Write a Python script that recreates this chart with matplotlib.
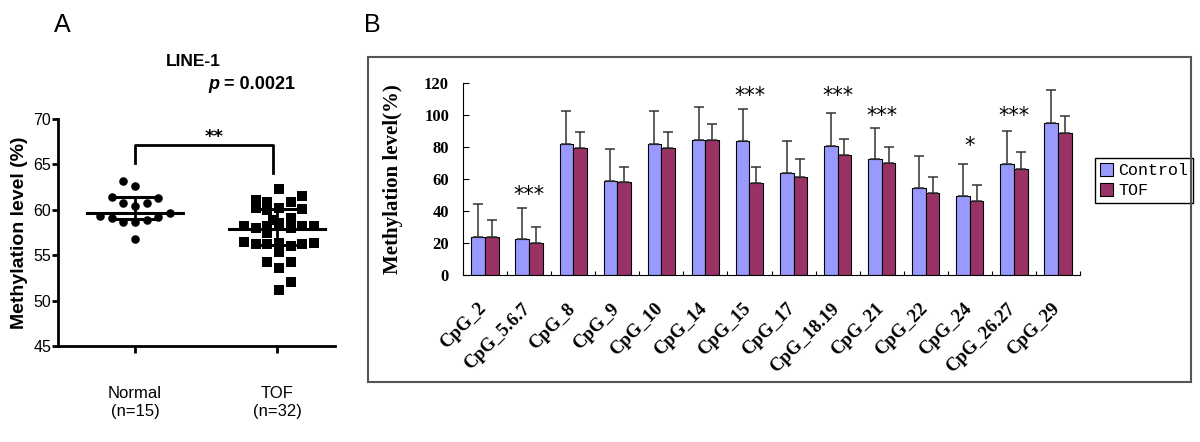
import numpy as np
import matplotlib.pyplot as plt
from matplotlib.patches import Rectangle

# ---- panel A data (LINE-1 methylation, %) ----
normal_vals = [63.2, 62.6, 61.4, 61.3, 60.7, 60.7, 60.4, 59.3, 59.6, 59.1,
               58.7, 58.7, 58.9, 59.2, 56.8]
normal_cols = [-1, 0, -2, 2, -1, 1, 0, -3, 3, -2, -1, 0, 1, 2, 0]
tof_vals = [62.3, 61.5, 61.1, 60.9, 60.9, 60.2, 60.2, 60.0, 60.1, 59.1,
            58.9, 58.5, 58.2, 58.0, 58.2, 58.0, 58.2, 58.2, 56.5, 56.2,
            56.2, 56.3, 56.0, 56.2, 56.3, 57.4, 55.4, 54.2, 54.3, 53.6,
            52.0, 51.2]
tof_cols = [0, 2, -2, -1, 1, -2, 0, -1, 2, 1, -0.5, 0, -3, -2, -1, 1, 2, 3,
            -3, -2, -1, 0, 1, 2, 3, -1, 0, -1, 1, 0, 1, 0]
group_means = [59.7, 57.9]
group_sd_hi = [61.45, 60.1]
group_sd_lo = [59.0, 56.15]
group_labels = ['Normal\n(n=15)', 'TOF\n(n=32)']

# ---- panel B data (CpG units, %) ----
cpg_labels = ['CpG_2', 'CpG_5.6.7', 'CpG_8', 'CpG_9', 'CpG_10', 'CpG_14',
              'CpG_15', 'CpG_17', 'CpG_18.19', 'CpG_21', 'CpG_22', 'CpG_24',
              'CpG_26.27', 'CpG_29']
control = [23.9, 22.3, 81.7, 58.4, 81.7, 84.2, 83.6, 63.4, 80.7, 72.2, 54.5,
           49.3, 69.1, 94.8]
control_err = [20.4, 19.7, 20.6, 20.0, 20.6, 20.4, 19.8, 20.2, 20.2, 19.7,
               19.8, 19.8, 20.5, 20.4]
tof = [23.9, 19.8, 79.0, 57.8, 79.0, 84.2, 57.2, 61.4, 74.9, 70.1, 51.0,
       46.2, 66.1, 88.4]
tof_err = [10.4, 9.9, 10.4, 9.8, 10.4, 10.0, 10.0, 10.8, 9.8, 10.0, 9.9,
           10.0, 10.4, 11.0]
sig_marks = {1: ('***', 50.0), 6: ('***', 111.8), 8: ('***', 111.4),
             9: ('***', 99.3), 11: ('*', 80.6), 12: ('***', 99.3)}

fig = plt.figure(figsize=(12, 4.42), dpi=100)

# ================= panel A =================
sans = ['Liberation Sans Narrow', 'Liberation Sans', 'DejaVu Sans']
axA = fig.add_axes([58/1200, 1-346/442, 277/1200, 227/442])
step = 0.082
axA.scatter(np.array(normal_cols) * step, normal_vals, marker='o', s=38,
            color='black', zorder=3, linewidths=0)
axA.scatter(1.014 + np.array(tof_cols) * step, tof_vals, marker='s', s=42,
            color='black', zorder=3, linewidths=0)
for i in range(2):
    axA.plot([i - 0.34, i + 0.34], [group_means[i]] * 2, color='black', lw=2.2, zorder=4)
    axA.plot([i - 0.17, i + 0.17], [group_sd_hi[i]] * 2, color='black', lw=2.2, zorder=4)
    axA.plot([i - 0.17, i + 0.17], [group_sd_lo[i]] * 2, color='black', lw=2.2, zorder=4)
    axA.plot([i, i], [group_sd_lo[i], group_sd_hi[i]], color='black', lw=2, zorder=4)

axA.plot([0, 0, 0.97, 0.97], [65.1, 67.1, 67.1, 64.1], color='black', lw=2, clip_on=False)
axA.text(0.56, 68.0, '**', ha='center', va='center', fontsize=13, fontweight='bold')

axA.set_xlim(-0.542, 1.408)
axA.set_ylim(45, 70)
axA.set_yticks([45, 50, 55, 60, 65, 70])
axA.set_xticks([0, 1], group_labels)
for s in ['top', 'right']:
    axA.spines[s].set_visible(False)
for s in ['left', 'bottom']:
    axA.spines[s].set_linewidth(2)
axA.tick_params(axis='y', direction='out', length=4, width=2, pad=1, labelsize=11.5)
axA.tick_params(axis='x', direction='out', length=5, width=2, pad=24, labelsize=12)
for lab in axA.get_xticklabels() + axA.get_yticklabels():
    lab.set_family(sans)
axA.set_ylabel('Methylation level (%)', fontsize=14, fontweight='bold', family=sans)
axA.yaxis.set_label_coords(-0.108, 0.5)
axA.text(0.487, 1.255, 'LINE-1', transform=axA.transAxes, ha='center', va='center',
         fontsize=12.5, fontweight='bold', family=sans)
axA.text(0.583, 1.15, 'p', transform=axA.transAxes, ha='right', va='center',
         fontsize=13, fontweight='bold', style='italic', family=sans)
axA.text(0.60, 1.15, '= 0.0021', transform=axA.transAxes, ha='left', va='center',
         fontsize=13, fontweight='bold', family=sans)
fig.text(62/1200, 1-25/442, 'A', ha='center', va='center', fontsize=18, family='Liberation Sans')

# ================= panel B =================
serif = ['Liberation Serif', 'DejaVu Serif']
fig.patches.append(Rectangle((368/1200, 1-382/442), 823/1200, 325/442,
                             transform=fig.transFigure, fill=False,
                             edgecolor='#555555', lw=1.5))
fig.text(372/1200, 1-25/442, 'B', ha='center', va='center', fontsize=18, family='Liberation Sans')

axB = fig.add_axes([463/1200, 1-275/442, 617/1200, 192.3/442])
x = np.arange(len(cpg_labels))
w = 0.31
axB.bar(x - w/2, control, w, color='#9999FF', edgecolor='black', lw=0.8, label='Control')
axB.bar(x + w/2, tof, w, color='#993366', edgecolor='black', lw=0.8, label='TOF')
err_kw = dict(fmt='none', ecolor='#333333', elinewidth=1.1, capsize=3.5, capthick=1.1)
axB.errorbar(x - w/2, control, yerr=[np.zeros(len(x)), control_err], **err_kw)
axB.errorbar(x + w/2, tof, yerr=[np.zeros(len(x)), tof_err], **err_kw)
for i, (txt, yv) in sig_marks.items():
    axB.text(x[i], yv, txt, ha='center', va='center', fontsize=15, family='DejaVu Sans')

axB.set_xlim(-0.5, len(x) - 0.5)
axB.set_ylim(0, 120)
axB.set_yticks(np.arange(0, 121, 20))
axB.set_xticks(x - 0.16, cpg_labels, rotation=45, ha='right', va='top',
               rotation_mode='anchor')
axB.set_xticks(np.arange(-0.5, len(x)), minor=True)
axB.tick_params(axis='x', which='major', length=0, pad=18, labelsize=13.5)
axB.tick_params(axis='x', which='minor', direction='in', length=3, width=0.8)
axB.tick_params(axis='y', direction='in', length=4, width=0.8, pad=10, labelsize=12)
for lab in axB.get_xticklabels() + axB.get_yticklabels():
    lab.set_family(serif)
    lab.set_fontweight('bold')
for s in ['top', 'right']:
    axB.spines[s].set_visible(False)
axB.set_ylabel('Methylation level(%)', fontsize=15, fontweight='bold', family=serif)
axB.yaxis.set_label_coords(-0.097, 0.5)

leg = axB.legend(loc='upper left', bbox_to_anchor=(1095/1200, 1-158/442),
                 bbox_transform=fig.transFigure, borderaxespad=0, fancybox=False,
                 edgecolor='black', framealpha=1, handlelength=0.8, handleheight=0.8,
                 handletextpad=0.3, borderpad=0.3, labelspacing=0.3,
                 prop={'family': ['Liberation Mono', 'DejaVu Sans Mono'], 'size': 12})
leg.get_frame().set_linewidth(1)

fig.savefig('out.png', dpi=100)
